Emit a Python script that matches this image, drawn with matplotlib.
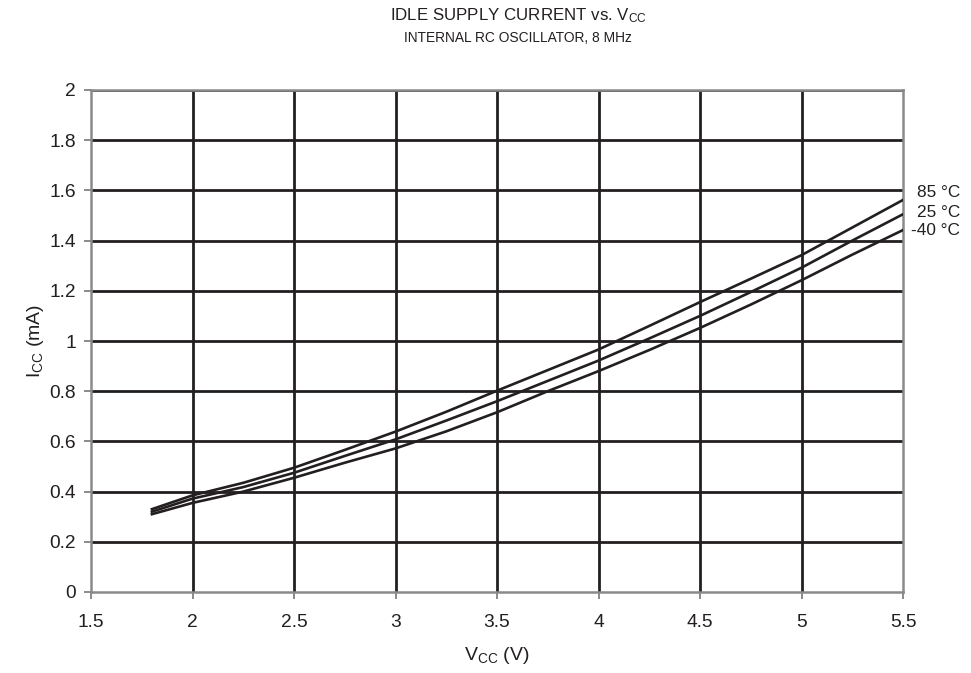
import matplotlib
matplotlib.use("Agg")
import matplotlib.pyplot as plt
import matplotlib.transforms as mtransforms

plt.rcParams['font.family'] = ['Liberation Sans', 'DejaVu Sans']
plt.rcParams['mathtext.fontset'] = 'custom'
plt.rcParams['mathtext.rm'] = 'Liberation Sans'

vcc = [1.8, 2.0, 2.25, 2.5, 2.75, 3.0, 3.25, 3.5, 3.75, 4.0, 4.25, 4.5, 4.75, 5.0, 5.25, 5.5]
icc_85 = [0.33, 0.385, 0.435, 0.495, 0.566, 0.639, 0.718, 0.802, 0.884, 0.966, 1.06, 1.155,
          1.248, 1.342, 1.452, 1.562]
icc_25 = [0.32, 0.372, 0.418, 0.475, 0.542, 0.608, 0.683, 0.760, 0.841, 0.922, 1.01, 1.10,
          1.195, 1.292, 1.400, 1.505]
icc_m40 = [0.31, 0.355, 0.400, 0.455, 0.515, 0.572, 0.640, 0.716, 0.800, 0.880, 0.964, 1.052,
           1.145, 1.242, 1.344, 1.442]
series = [("85 °C", icc_85), ("25 °C", icc_25), ("-40 °C", icc_m40)]
label_y = [1.59, 1.51, 1.44]

xticks = [1.5, 2, 2.5, 3, 3.5, 4, 4.5, 5, 5.5]
xticklabels = ["1.5", "2", "2.5", "3", "3.5", "4", "4.5", "5", "5.5"]
yticks = [0, 0.2, 0.4, 0.6, 0.8, 1, 1.2, 1.4, 1.6, 1.8, 2]
yticklabels = ["0", "0.2", "0.4", "0.6", "0.8", "1", "1.2", "1.4", "1.6", "1.8", "2"]

fig = plt.figure(figsize=(9.71, 6.73), dpi=100)
ax = fig.add_axes([91/971, 1-592/673, (903-91)/971, (592-90)/673])

dark = '#231f20'
gray = '#8a8a8a'

for x in xticks[1:-1]:
    ax.axvline(x, color=dark, lw=2.0, zorder=1)
for y in yticks[1:]:
    ax.axhline(y, color=dark, lw=2.0, zorder=1)

for name, vals in series:
    ax.plot(vcc, vals, color=dark, lw=1.9, zorder=3)

ax.set_xlim(1.5, 5.5)
ax.set_ylim(0, 2)
ax.set_xticks(xticks)
ax.set_xticklabels(xticklabels)
ax.set_yticks(yticks)
ax.set_yticklabels(yticklabels)
ax.tick_params(direction='out', length=5, width=1.4, color=gray, labelsize=13.8,
               labelcolor=dark)
ax.tick_params(axis='y', pad=6)
ax.tick_params(axis='x', pad=11)
for s in ax.spines.values():
    s.set_color(gray)
    s.set_linewidth(1.8)

ax.set_xlabel(r"$\mathregular{V_{CC}}$ (V)", fontsize=14, color=dark, labelpad=10)
ax.set_ylabel(r"$\mathregular{I_{CC}}$ (mA)", fontsize=14, color=dark, labelpad=2)

trans = mtransforms.blended_transform_factory(fig.transFigure, ax.transData)
for (name, vals), ly in zip(series, label_y):
    ax.text(960/971, ly, name, transform=trans, ha='right', va='center',
            fontsize=12.4, color=dark)

fig.text(518/971, 1-16/673, r"IDLE SUPPLY CURRENT vs. $\mathregular{V_{CC}}$",
         ha='center', va='center', fontsize=12.2, color=dark)
fig.text(518/971, 1-38/673, "INTERNAL RC OSCILLATOR, 8 MHz",
         ha='center', va='center', fontsize=9.9, color=dark)

fig.savefig("out.png", dpi=100)
